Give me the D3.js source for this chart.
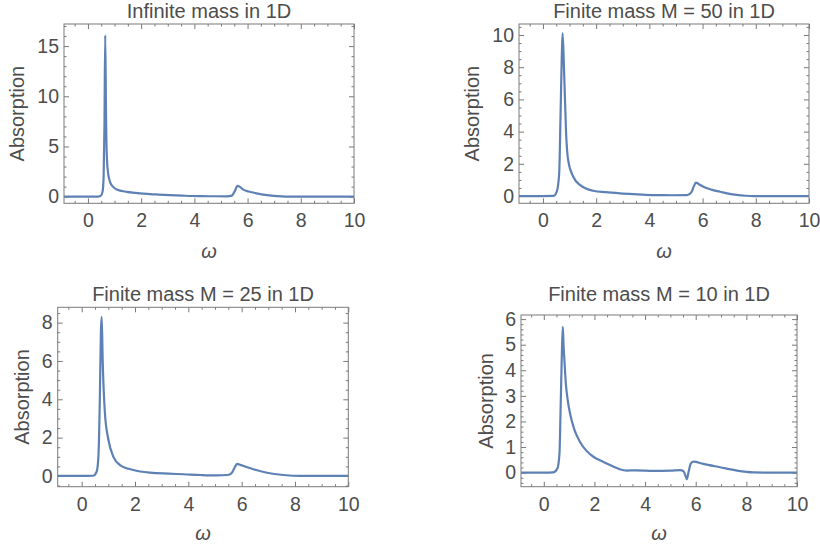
<!DOCTYPE html>
<html>
<head>
<meta charset="utf-8">
<script src="https://cdn.jsdelivr.net/npm/d3@7"></script>
<style>
  html, body { margin: 0; padding: 0; background: #fff; }
  svg { display: block; }
  text { font-family: "Liberation Sans", Arial, Helvetica, sans-serif; fill: #4d4d4d; }
</style>
</head>
<body>
<svg id="chart" width="820" height="550"></svg>
<script>
// ---- data ----
const titles = ["Infinite mass in 1D", "Finite mass M = 50 in 1D", "Finite mass M = 25 in 1D", "Finite mass M = 10 in 1D"];
const xLabel = "\u03c9";
const yLabel = "Absorption";
const xMajorTicks = [0, 2, 4, 6, 8, 10];

const omegaInf = [-0.9, 0, 0.39, 0.49, 0.55, 0.59, 0.62, 0.65, 0.68, 0.71, 0.76, 0.84, 0.94, 1.08, 1.46, 1.78, 2.08, 2.57, 3.07, 3.56, 4.21, 4.75, 5.22, 5.41, 5.52, 5.62, 5.71, 5.84, 6.04, 6.34, 6.73, 7.1, 7.43, 8, 9, 10];
const absInf   = [0, 0, 0.01, 0.1, 0.5, 2, 7, 16.1, 8, 4, 2.3, 1.4, 1.0, 0.72, 0.48, 0.38, 0.3, 0.22, 0.15, 0.1, 0.05, 0.04, 0.03, 0.1, 0.55, 1.08, 0.98, 0.7, 0.52, 0.33, 0.16, 0.06, 0.01, 0, 0, 0];

const omegaM50 = [-0.9, 0, 0.4, 0.52, 0.61, 0.66, 0.71, 0.74, 0.79, 0.87, 0.95, 1.14, 1.4, 1.89, 2.36, 2.9, 3.55, 4.15, 4.84, 5.41, 5.51, 5.6, 5.67, 5.75, 5.88, 6.03, 6.33, 6.66, 6.97, 7.28, 7.62, 7.92, 9, 10];
const absM50   = [0, 0, 0.01, 0.27, 1.4, 4.9, 8.8, 10.1, 8.0, 3.9, 2.2, 1.2, 0.68, 0.33, 0.24, 0.17, 0.11, 0.06, 0.05, 0.06, 0.12, 0.3, 0.6, 0.83, 0.72, 0.58, 0.4, 0.27, 0.15, 0.07, 0.02, 0, 0, 0];

const omegaM25 = [-0.9, 0, 0.43, 0.56, 0.63, 0.68, 0.72, 0.75, 0.79, 0.87, 1.0, 1.19, 1.44, 1.94, 2.57, 3.26, 3.82, 4.46, 5.07, 5.45, 5.57, 5.65, 5.73, 5.83, 5.95, 6.07, 6.44, 6.95, 7.57, 8.2, 9, 10];
const absM25   = [0, 0, 0.01, 0.22, 1.1, 4.0, 7.5, 8.3, 5.9, 3.3, 1.9, 1.0, 0.57, 0.31, 0.17, 0.12, 0.09, 0.05, 0.03, 0.05, 0.09, 0.2, 0.42, 0.63, 0.58, 0.52, 0.35, 0.17, 0.05, 0, 0, 0];

const omegaM10 = [-0.9, 0, 0.38, 0.54, 0.62, 0.66, 0.71, 0.75, 0.78, 0.82, 0.87, 0.95, 1.05, 1.2, 1.43, 1.69, 1.96, 2.24, 2.48, 2.78, 3.0, 3.28, 3.63, 4.33, 5.02, 5.38, 5.52, 5.61, 5.65, 5.72, 5.81, 5.91, 6.3, 6.96, 7.63, 8.29, 9, 10];
const absM10   = [0, 0, 0.01, 0.17, 0.75, 2.3, 4.5, 5.7, 5.0, 4.3, 3.5, 2.8, 2.25, 1.7, 1.2, 0.85, 0.62, 0.47, 0.36, 0.22, 0.13, 0.08, 0.09, 0.07, 0.08, 0.1, 0.05, -0.16, -0.26, 0.04, 0.36, 0.43, 0.34, 0.21, 0.08, 0.01, 0, 0];

const yMajorTicksInf = [0, 5, 10, 15];
const yMajorTicksM50 = [0, 2, 4, 6, 8, 10];
const yMajorTicksM25 = [0, 2, 4, 6, 8];
const yMajorTicksM10 = [0, 1, 2, 3, 4, 5, 6];

// ---- layout ----
const panels = [
  { title: titles[0], omega: omegaInf, abs: absInf, yTicks: yMajorTicksInf, yMinorStep: 1,
    frame: [64, 24, 354, 203.3], yDomain: [-0.66, 17.2], titleY: 18.3, ylabX: 24, xlabY: 258 },
  { title: titles[1], omega: omegaM50, abs: absM50, yTicks: yMajorTicksM50, yMinorStep: 0.5,
    frame: [519, 24, 809, 203.3], yDomain: [-0.45, 10.68], titleY: 18.3, ylabX: 479, xlabY: 258 },
  { title: titles[2], omega: omegaM25, abs: absM25, yTicks: yMajorTicksM25, yMinorStep: 0.5,
    frame: [57.7, 307.3, 348.3, 486.7], yDomain: [-0.56, 8.8], titleY: 300.7, ylabX: 29, xlabY: 540 },
  { title: titles[3], omega: omegaM10, abs: absM10, yTicks: yMajorTicksM10, yMinorStep: 0.2,
    frame: [521, 315, 797, 486.7], yDomain: [-0.55, 6.16], titleY: 300.7, ylabX: 493, xlabY: 540 }
];

const svg = d3.select("#chart");
svg.append("rect").attr("width", 820).attr("height", 550).attr("fill", "#fff");

const frameColor = "#7a7a7a";
const lineColor = "#5E81B5";

function range(a, b, step) {
  const out = [];
  for (let v = a; v <= b + 1e-9; v += step) out.push(+v.toFixed(4));
  return out;
}

panels.forEach((p, i) => {
  const [x0, y0, x1, y1] = p.frame;
  const x = d3.scaleLinear().domain([-0.9, 10]).range([x0, x1]);
  const y = d3.scaleLinear().domain(p.yDomain).range([y1, y0]);
  const g = svg.append("g");

  const xMinor = range(-0.5, 10, 0.5).filter(v => !xMajorTicks.includes(v));
  const yMinor = range(Math.ceil(p.yDomain[0] / p.yMinorStep) * p.yMinorStep, p.yDomain[1], p.yMinorStep)
                  .filter(v => !p.yTicks.some(t => Math.abs(t - v) < 1e-6));

  function styleAxis(sel) {
    sel.select(".domain").remove();
    sel.selectAll(".tick line").attr("stroke", frameColor).attr("stroke-width", 1);
    sel.selectAll(".tick text").attr("fill", "#4d4d4d").style("font-size", "19.5px")
       .style("font-family", '"Liberation Sans", Arial, sans-serif');
  }

  // bottom axis (labels) + minor
  g.append("g").attr("transform", `translate(0,${y1})`)
    .call(d3.axisBottom(x).tickValues(xMajorTicks).tickSize(-5).tickPadding(10).tickFormat(d3.format("d")))
    .call(styleAxis);
  g.append("g").attr("transform", `translate(0,${y1})`)
    .call(d3.axisBottom(x).tickValues(xMinor).tickSize(-2.5).tickFormat(""))
    .call(styleAxis);
  // top mirror
  g.append("g").attr("transform", `translate(0,${y0})`)
    .call(d3.axisTop(x).tickValues(xMajorTicks).tickSize(-5).tickFormat(""))
    .call(styleAxis);
  g.append("g").attr("transform", `translate(0,${y0})`)
    .call(d3.axisTop(x).tickValues(xMinor).tickSize(-2.5).tickFormat(""))
    .call(styleAxis);
  // left axis
  g.append("g").attr("transform", `translate(${x0},0)`)
    .call(d3.axisLeft(y).tickValues(p.yTicks).tickSize(-5).tickPadding(5).tickFormat(d3.format("d")))
    .call(styleAxis);
  g.append("g").attr("transform", `translate(${x0},0)`)
    .call(d3.axisLeft(y).tickValues(yMinor).tickSize(-2.5).tickFormat(""))
    .call(styleAxis);
  // right mirror
  g.append("g").attr("transform", `translate(${x1},0)`)
    .call(d3.axisRight(y).tickValues(p.yTicks).tickSize(-5).tickFormat(""))
    .call(styleAxis);
  g.append("g").attr("transform", `translate(${x1},0)`)
    .call(d3.axisRight(y).tickValues(yMinor).tickSize(-2.5).tickFormat(""))
    .call(styleAxis);

  // clip
  const clipId = "clip" + i;
  svg.append("clipPath").attr("id", clipId).append("rect")
    .attr("x", x0).attr("y", y0).attr("width", x1 - x0).attr("height", y1 - y0);

  const pts = p.omega.map((w, k) => [w, p.abs[k]]);
  const line = d3.line().x(d => x(d[0])).y(d => y(d[1])).curve(d3.curveMonotoneX);
  g.append("path").datum(pts)
    .attr("clip-path", `url(#${clipId})`)
    .attr("d", line)
    .attr("fill", "none")
    .attr("stroke", lineColor)
    .attr("stroke-width", 2.2)
    .attr("stroke-linejoin", "round");

  // frame
  g.append("rect").attr("x", x0).attr("y", y0).attr("width", x1 - x0).attr("height", y1 - y0)
    .attr("fill", "none").attr("stroke", frameColor).attr("stroke-width", 1);

  // title
  g.append("text").attr("x", (x0 + x1) / 2).attr("y", p.titleY)
    .attr("text-anchor", "middle").style("font-size", "20px").text(p.title);
  // y label
  g.append("text").attr("transform", `translate(${p.ylabX},${(y0 + y1) / 2}) rotate(-90)`)
    .attr("text-anchor", "middle").style("font-size", "20px").text(yLabel);
  // x label
  g.append("text").attr("x", (x0 + x1) / 2).attr("y", p.xlabY)
    .attr("text-anchor", "middle").style("font-size", "20px").style("font-style", "italic").text(xLabel);
});
</script>
</body>
</html>
